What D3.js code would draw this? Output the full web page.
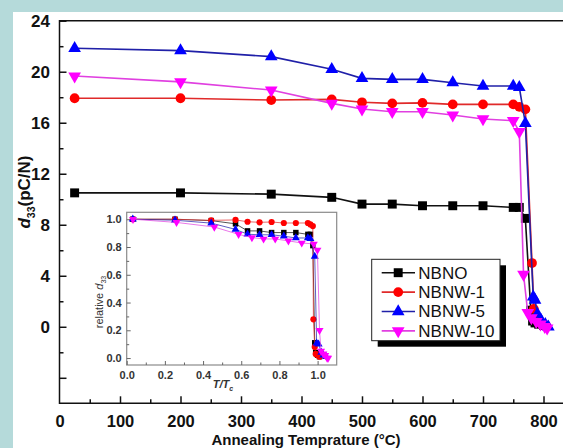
<!DOCTYPE html>
<html>
<head>
<meta charset="utf-8">
<script src="https://cdn.jsdelivr.net/npm/d3@7"></script>
<style>
  body { margin: 0; background: #b5dada; }
  svg { display: block; font-family: "Liberation Sans", Arial, sans-serif; }
</style>
</head>
<body>
<svg id="chart"></svg>
<script>
// main chart: annealing temperature (°C) vs d33 (pC/N)
const nbnoT = [25, 200, 350, 450, 500, 550, 600, 650, 700, 750, 760, 770, 779, 782, 786, 792, 800];
const nbnoD = [10.5, 10.5, 10.4, 10.15, 9.62, 9.62, 9.49, 9.49, 9.49, 9.36, 9.36, 8.5, 1.3, 0.45, 0.3, 0.2, 0.1];
const nbnw1T = [25, 200, 350, 450, 500, 550, 600, 650, 700, 750, 760, 770, 781, 784, 788, 795, 802];
const nbnw1D = [17.92, 17.92, 17.78, 17.83, 17.6, 17.52, 17.56, 17.44, 17.44, 17.44, 17.25, 17.05, 5.0, 1.4, 0.55, 0.3, 0.15];
const nbnw5T = [25, 200, 350, 450, 500, 550, 600, 650, 700, 750, 760, 770, 783, 786, 790, 796, 803, 808];
const nbnw5D = [21.84, 21.65, 21.18, 20.19, 19.48, 19.4, 19.4, 19.14, 18.88, 18.88, 18.78, 15.95, 2.35, 2.1, 1.0, 0.5, 0.2, 0.0];
const nbnw10T = [25, 200, 350, 450, 500, 550, 600, 650, 700, 750, 760, 767, 774, 780, 788, 795, 802, 806];
const nbnw10D = [19.66, 19.2, 18.56, 17.52, 17.07, 16.86, 16.86, 16.6, 16.29, 16.16, 15.3, 4.1, 1.1, 0.7, 0.4, 0.2, 0.0, -0.1];

// inset: T/Tc vs relative d33
const insNbnoX = [0.032, 0.253, 0.443, 0.57, 0.633, 0.696, 0.759, 0.823, 0.886, 0.949, 0.962, 0.975, 0.985, 0.99, 0.995, 1.0, 1.01];
const insNbnoY = [1.0, 1.0, 0.99, 0.967, 0.916, 0.916, 0.904, 0.904, 0.904, 0.891, 0.891, 0.81, 0.11, 0.04, 0.03, 0.02, 0.01];
const insNbnw1X = [0.032, 0.253, 0.443, 0.57, 0.633, 0.696, 0.759, 0.823, 0.886, 0.949, 0.962, 0.975, 0.978, 0.985, 0.99, 1.0, 1.01];
const insNbnw1Y = [1.0, 1.0, 0.992, 0.995, 0.982, 0.978, 0.98, 0.973, 0.973, 0.973, 0.963, 0.951, 0.279, 0.08, 0.03, 0.02, 0.01];
const insNbnw5X = [0.032, 0.253, 0.443, 0.57, 0.633, 0.696, 0.759, 0.823, 0.886, 0.949, 0.962, 0.985, 0.995, 1.005, 1.02, 1.03, 1.045];
const insNbnw5Y = [1.0, 0.993, 0.972, 0.927, 0.892, 0.888, 0.888, 0.878, 0.865, 0.865, 0.86, 0.732, 0.108, 0.1, 0.04, 0.02, 0.01];
const insNbnw10X = [0.033, 0.261, 0.459, 0.586, 0.656, 0.717, 0.778, 0.847, 0.917, 0.98, 0.999, 1.01, 1.018, 1.03, 1.04, 1.05, 1.055];
const insNbnw10Y = [1.0, 0.977, 0.944, 0.891, 0.868, 0.858, 0.858, 0.844, 0.829, 0.822, 0.778, 0.2, 0.05, 0.03, 0.02, 0.0, 0.0];

const seriesNames = ["NBNO", "NBNW-1", "NBNW-5", "NBNW-10"];
const markColors = ["#000000", "#ff0000", "#0000ff", "#ff00ff"];
const lineColors = ["#111111", "#e02a2a", "#2020a8", "#e040e0"];
const symbols = [d3.symbolSquare, d3.symbolCircle, d3.symbolTriangle, d3.symbolTriangle];
const flips = [0, 0, 0, 180];

const xMajor = [100, 200, 300, 400, 500, 600, 700, 800];
const xMinor = [50, 150, 250, 350, 450, 550, 650, 750, 850];
const xLabels = [0, 100, 200, 300, 400, 500, 600, 700, 800];
const yMajor = [-4, 0, 4, 8, 12, 16, 20, 24];
const yMinor = [-2, 2, 6, 10, 14, 18, 22];
const yLabels = [0, 4, 8, 12, 16, 20, 24];
const insTicks = [0, 0.2, 0.4, 0.6, 0.8, 1.0];
const insMinor = [0.1, 0.3, 0.5, 0.7, 0.9];

const mainData = [[nbnoT, nbnoD], [nbnw1T, nbnw1D], [nbnw5T, nbnw5D], [nbnw10T, nbnw10D]]
  .map(([t, d]) => t.map((v, i) => [v, d[i]]));
const insetData = [[insNbnoX, insNbnoY], [insNbnw1X, insNbnw1Y], [insNbnw5X, insNbnw5Y], [insNbnw10X, insNbnw10Y]]
  .map(([t, d]) => t.map((v, i) => [v, d[i]]));

const svg = d3.select("#chart").attr("width", 563).attr("height", 448);

// white panel on the teal background
svg.append("rect").attr("x", 13).attr("y", 12).attr("width", 550).attr("height", 436).attr("fill", "#ffffff");

const x = d3.scaleLinear().domain([0, 850]).range([59.5, 573.75]);
const y = d3.scaleLinear().domain([-6, 24]).range([403.3, 20.7]);

// frame
svg.append("path")
  .attr("d", `M${x(850)},${y(24)}H${x(0)}V${y(-6)}H${x(850)}`)
  .attr("fill", "none").attr("stroke", "#111").attr("stroke-width", 1.5);

// x axis ticks (inward)
const gx = svg.append("g").attr("transform", `translate(0,${y(-6)})`);
gx.append("g").call(d3.axisBottom(x).tickValues(xMinor).tickSize(-4).tickFormat(""));
gx.append("g").call(d3.axisBottom(x).tickValues(xMajor).tickSize(-7).tickFormat(""));
gx.append("g").call(d3.axisBottom(x).tickValues(xLabels).tickSize(0).tickPadding(12));
gx.selectAll(".domain").remove();
gx.selectAll("line").attr("stroke", "#111").attr("stroke-width", 1.5);
gx.selectAll("text").style("font-size", "16.5px").style("font-weight", "bold").attr("fill", "#111");

// y axis ticks (inward)
const gy = svg.append("g").attr("transform", `translate(${x(0)},0)`);
gy.append("g").call(d3.axisLeft(y).tickValues(yMinor).tickSize(-4).tickFormat(""));
gy.append("g").call(d3.axisLeft(y).tickValues(yMajor).tickSize(-7).tickFormat(""));
gy.append("g").call(d3.axisLeft(y).tickValues(yLabels).tickSize(0).tickPadding(9.5));
gy.selectAll(".domain").remove();
gy.selectAll("line").attr("stroke", "#111").attr("stroke-width", 1.5);
gy.selectAll("text").style("font-size", "17px").style("font-weight", "bold").attr("fill", "#111");

// axis titles
svg.append("text")
  .attr("x", 306).attr("y", 444.6)
  .attr("text-anchor", "middle")
  .style("font-size", "15px").style("font-weight", "bold").attr("fill", "#111")
  .text("Annealing Temprature (°C)");

const yt = svg.append("text")
  .attr("transform", "translate(30,192) rotate(-90)")
  .attr("text-anchor", "middle")
  .style("font-size", "17px").style("font-weight", "bold").attr("fill", "#111");
yt.append("tspan").style("font-style", "italic").text("d");
yt.append("tspan").attr("dy", 5).style("font-size", "10.5px").text("33");
yt.append("tspan").attr("dy", -5).text("(pC/N)");

// series
const line = d3.line().x(d => x(d[0])).y(d => y(d[1]));
const mainSizes = [80, 75, 70, 70];
mainData.forEach((data, i) => {
  svg.append("path").datum(data)
    .attr("d", line).attr("fill", "none")
    .attr("stroke", lineColors[i]).attr("stroke-width", 1.6);
  svg.append("g").selectAll("path").data(data).join("path")
    .attr("d", d3.symbol(symbols[i], mainSizes[i]))
    .attr("transform", d => `translate(${x(d[0])},${y(d[1])}) rotate(${flips[i]})`)
    .attr("fill", markColors[i]);
});

// legend
const lg = svg.append("g").attr("transform", "translate(371.7,259.3)");
lg.append("rect").attr("x", 6).attr("y", 6).attr("width", 128.3).attr("height", 81.4).attr("fill", "#000");
lg.append("rect").attr("width", 128.3).attr("height", 81.4).attr("fill", "#fff").attr("stroke", "#222").attr("stroke-width", 1);
seriesNames.forEach((name, i) => {
  const ry = 13.4 + i * 19.4;
  lg.append("line").attr("x1", 10).attr("x2", 43.3).attr("y1", ry).attr("y2", ry)
    .attr("stroke", lineColors[i]).attr("stroke-width", 1.6);
  lg.append("path")
    .attr("d", d3.symbol(symbols[i], mainSizes[i]))
    .attr("transform", `translate(26.5,${ry}) rotate(${flips[i]})`)
    .attr("fill", markColors[i]);
  lg.append("text").attr("x", 46.6).attr("y", ry).attr("dy", "0.35em")
    .style("font-size", "17px").attr("fill", "#111").text(name);
});

// inset
const ix = d3.scaleLinear().domain([0, 1.1]).range([126.7, 336.7]);
const iy = d3.scaleLinear().domain([-0.05, 1.05]).range([365, 212.3]);

svg.append("rect")
  .attr("x", ix(0)).attr("y", iy(1.05))
  .attr("width", ix(1.1) - ix(0)).attr("height", iy(-0.05) - iy(1.05))
  .attr("fill", "#fff").attr("stroke", "#8a8a8a").attr("stroke-width", 1.2);

const ixg = svg.append("g").attr("transform", `translate(0,${iy(-0.05)})`);
ixg.append("g").call(d3.axisBottom(ix).tickValues(insMinor).tickSize(-2.5).tickFormat(""));
ixg.append("g").call(d3.axisBottom(ix).tickValues(insTicks).tickSize(-4).tickPadding(6).tickFormat(d3.format(".1f")));
const iyg = svg.append("g").attr("transform", `translate(${ix(0)},0)`);
iyg.append("g").call(d3.axisLeft(iy).tickValues(insMinor).tickSize(-2.5).tickFormat(""));
iyg.append("g").call(d3.axisLeft(iy).tickValues(insTicks).tickSize(-4).tickPadding(5).tickFormat(d3.format(".1f")));
[ixg, iyg].forEach(g => {
  g.selectAll(".domain").remove();
  g.selectAll("line").attr("stroke", "#666");
  g.selectAll("text").style("font-size", "11px").style("font-weight", "bold").attr("fill", "#333");
});

const ilx = svg.append("text").attr("x", 223).attr("y", 388).attr("text-anchor", "middle")
  .style("font-size", "11px").style("font-weight", "bold").style("font-style", "italic").attr("fill", "#333");
ilx.append("tspan").text("T/T");
ilx.append("tspan").attr("dy", 3).style("font-size", "7px").text("c");

const ily = svg.append("text").attr("transform", "translate(103,302) rotate(-90)")
  .attr("text-anchor", "middle").style("font-size", "11px").attr("fill", "#333");
ily.append("tspan").text("relative ");
ily.append("tspan").style("font-style", "italic").text("d");
ily.append("tspan").attr("dy", 3).style("font-size", "7px").text("33");

const iline = d3.line().x(d => ix(d[0])).y(d => iy(d[1]));
const insSizes = [30, 30, 28, 28];
insetData.forEach((data, i) => {
  svg.append("path").datum(data)
    .attr("d", iline).attr("fill", "none")
    .attr("stroke", lineColors[i]).attr("stroke-width", 0.9).attr("stroke-opacity", 0.8);
  svg.append("g").selectAll("path").data(data).join("path")
    .attr("d", d3.symbol(symbols[i], insSizes[i]))
    .attr("transform", d => `translate(${ix(d[0])},${iy(d[1])}) rotate(${flips[i]})`)
    .attr("fill", markColors[i]);
});
</script>
</body>
</html>
